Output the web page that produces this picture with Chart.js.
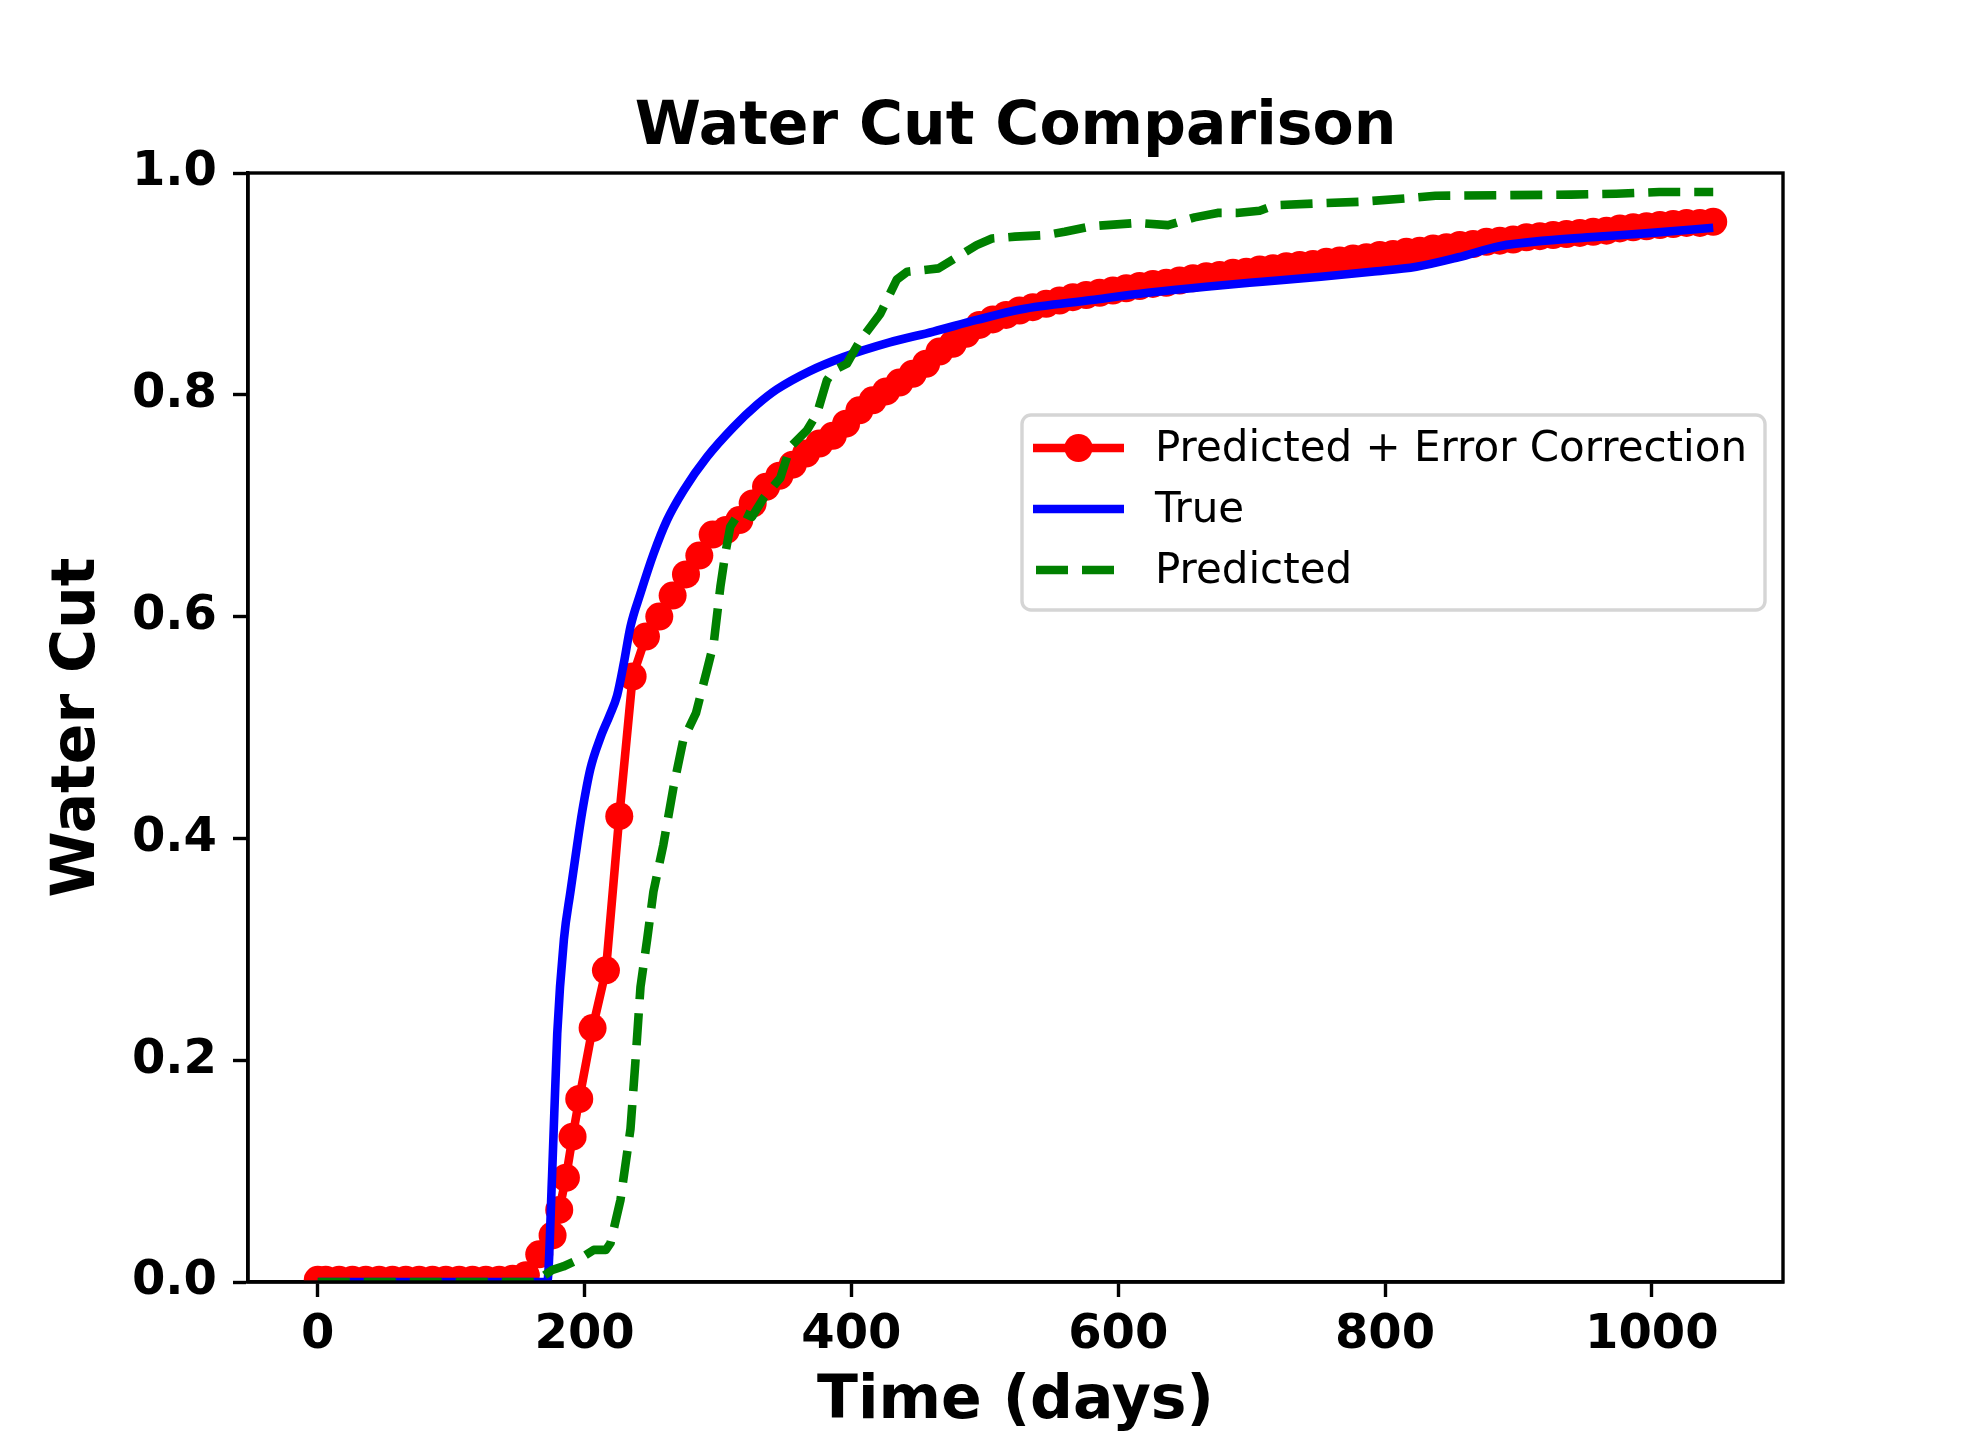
<!DOCTYPE html>
<html>
<head>
<meta charset="utf-8">
<script src="https://cdn.jsdelivr.net/npm/chart.js@4.4.1/dist/chart.umd.min.js"></script>
<style>
  html, body { margin: 0; padding: 0; background: #fff; }
  #wrap { width: 1980px; height: 1440px; }
</style>
</head>
<body>
<div id="wrap"><canvas id="myChart" width="1980" height="1440"></canvas></div>
<script>
// data
const corrDays = [0, 6, 16, 26, 36, 46, 56, 66, 76, 86, 96, 106, 116, 126, 136, 146, 156, 166, 176, 181, 186, 191, 196,
  206, 216, 226, 236, 246, 256, 266, 276, 286, 296, 306, 316, 326, 336, 346, 356, 366, 376, 386, 396,
  406, 416, 426, 436, 446, 456, 466, 476, 486, 496, 506, 516, 526, 536, 546, 556, 566, 576, 586, 596,
  606, 616, 626, 636, 646, 656, 666, 676, 686, 696, 706, 716, 726, 736, 746, 756, 766, 776, 786, 796,
  806, 816, 826, 836, 846, 856, 866, 876, 886, 896, 906, 916, 926, 936, 946, 956, 966, 976, 986, 996,
  1006, 1016, 1026, 1036, 1046];
const corrCut = [0.002, 0.002, 0.002, 0.002, 0.002, 0.002, 0.002, 0.002, 0.002, 0.002, 0.002, 0.002, 0.002, 0.002, 0.002, 0.003, 0.006, 0.025, 0.042, 0.065, 0.094, 0.131, 0.165,
  0.229, 0.281, 0.420, 0.546, 0.582, 0.600, 0.619, 0.638, 0.655, 0.674, 0.678, 0.687, 0.702, 0.717, 0.727, 0.737, 0.747, 0.756, 0.763, 0.774,
  0.786, 0.795, 0.803, 0.811, 0.819, 0.828, 0.839, 0.846, 0.855, 0.863, 0.868, 0.872, 0.876, 0.879, 0.882, 0.885, 0.888, 0.890, 0.892, 0.894,
  0.896, 0.898, 0.900, 0.901, 0.903, 0.905, 0.907, 0.908, 0.910, 0.911, 0.913, 0.914, 0.916, 0.917, 0.918, 0.920, 0.921, 0.923, 0.924, 0.926,
  0.927, 0.929, 0.930, 0.932, 0.933, 0.935, 0.936, 0.938, 0.939, 0.940, 0.942, 0.943, 0.944, 0.945, 0.946, 0.947, 0.948, 0.950, 0.951, 0.952,
  0.953, 0.954, 0.955, 0.955, 0.956];

const trueDays = [0, 100, 172, 175.6, 179.5, 184.5, 189.4, 194.4, 198.2, 204.4, 211.9, 218.8, 224.4, 229.4, 234.4, 241.9, 251.8, 261.8, 274.3,
  291.8, 311.7, 329.2, 344.2, 368, 394, 428, 461.5, 493.9, 526.6, 580, 622, 665.9, 708, 751.9, 790, 823.5, 855, 885.8, 920, 960.7, 1000, 1046];
const trueCut = [0, 0, 0, 0.095, 0.224, 0.309, 0.352, 0.394, 0.424, 0.463, 0.491, 0.511, 0.529, 0.558, 0.591, 0.621, 0.657, 0.687, 0.714,
  0.744, 0.771, 0.791, 0.805, 0.821, 0.834, 0.847, 0.857, 0.8675, 0.877, 0.8855, 0.892, 0.8975, 0.902, 0.9065, 0.911, 0.9155, 0.924, 0.934, 0.939, 0.9426, 0.946, 0.9507];

const predDays = [0, 166, 170, 176, 184, 195, 206.9, 216, 219.4, 226.9, 234.4, 238, 241.9, 246.9, 251.6, 259, 266.6, 274, 283.5, 291.8, 296.8, 301.8, 305.5,
  309.2, 316.7, 325.5, 334.2, 346.7, 354.2, 366.7, 374.2, 381.6, 386.6, 396.6, 406.6, 421.6, 434.1, 441.8, 458, 465.3, 493.9, 505.4, 522.6,
  545.5, 559.9, 580, 614.3, 637.3, 657.3, 674.5, 688.9, 706, 717.5, 751.9, 780.5, 814.9, 837.8, 885.8, 939.5, 973.2, 1005.6, 1046];
const predCut = [0, 0, 0.006, 0.011, 0.014, 0.020, 0.029, 0.029, 0.035, 0.074, 0.138, 0.197, 0.266, 0.309, 0.352, 0.394, 0.446, 0.489, 0.513, 0.552, 0.576, 0.627, 0.657,
  0.681, 0.695, 0.690, 0.707, 0.725, 0.753, 0.768, 0.783, 0.813, 0.822, 0.828, 0.849, 0.873, 0.904, 0.911, 0.913, 0.914, 0.935, 0.941, 0.9426,
  0.944, 0.947, 0.952, 0.955, 0.953, 0.960, 0.964, 0.964, 0.966, 0.971, 0.9727, 0.974, 0.977, 0.9795, 0.980, 0.9805, 0.9813, 0.9828, 0.9828];

const xTicks = [0, 200, 400, 600, 800, 1000];
const yTicks = [0, 0.2, 0.4, 0.6, 0.8, 1.0];

const toPoints = (xs, ys) => xs.map((x, i) => ({ x: x, y: ys[i] }));

const LW = 8.6; // 2pt at this size

// top/right spines plus the legend box
const framePlugin = {
  id: 'frame',
  afterDraw(chart) {
    const { ctx, chartArea } = chart;
    ctx.save();
    ctx.strokeStyle = '#000';
    ctx.lineWidth = 3.4;
    ctx.strokeRect(chartArea.left, chartArea.top, chartArea.right - chartArea.left, chartArea.bottom - chartArea.top);

    // legend
    const bx = 1022, by = 415, bw = 743, bh = 195;
    ctx.beginPath();
    ctx.roundRect(bx, by, bw, bh, 9);
    ctx.fillStyle = 'rgba(255,255,255,0.8)';
    ctx.fill();
    ctx.strokeStyle = '#d5d5d5';
    ctx.lineWidth = 3.4;
    ctx.stroke();

    const rows = [448, 509, 570];
    chart.data.datasets.forEach((ds, i) => {
      const y = rows[i];
      ctx.strokeStyle = ds.borderColor;
      ctx.lineWidth = LW;
      ctx.setLineDash(ds.borderDash || []);
      ctx.lineCap = 'butt';
      ctx.beginPath();
      ctx.moveTo(ds.borderDash ? 1036 : 1033, y);
      ctx.lineTo(1124, y);
      ctx.stroke();
      ctx.setLineDash([]);
      if (ds.pointRadius > 0) {
        ctx.fillStyle = ds.pointBackgroundColor;
        ctx.beginPath();
        ctx.arc(1078.5, y, ds.pointRadius, 0, Math.PI * 2);
        ctx.fill();
      }
      ctx.fillStyle = '#000';
      ctx.font = '42px "DejaVu Sans"';
      ctx.textBaseline = 'middle';
      ctx.textAlign = 'left';
      ctx.fillText(ds.label, 1155, y + 2);
    });
    ctx.restore();
  }
};

const tickFont = { family: 'DejaVu Sans', size: 48, weight: 'bold' };
const titleFont = { family: 'DejaVu Sans', size: 60, weight: 'bold' };

new Chart(document.getElementById('myChart'), {
  type: 'scatter',
  data: {
    datasets: [
      {
        label: 'Predicted + Error Correction',
        data: toPoints(corrDays, corrCut),
        showLine: true,
        borderColor: '#ff0000',
        borderWidth: LW,
        pointRadius: 14,
        pointBorderWidth: 0,
        pointBackgroundColor: '#ff0000',
        borderJoinStyle: 'round',
        order: 3,
        clip: 0,
      },
      {
        label: 'True',
        data: toPoints(trueDays, trueCut),
        showLine: true,
        borderColor: '#0000ff',
        borderWidth: LW,
        pointRadius: 0,
        borderJoinStyle: 'round',
        cubicInterpolationMode: 'monotone',
        order: 2,
        clip: 0,
      },
      {
        label: 'Predicted',
        data: toPoints(predDays, predCut),
        showLine: true,
        borderColor: '#008000',
        borderWidth: LW,
        borderDash: [32, 14],
        pointRadius: 0,
        borderJoinStyle: 'round',
        order: 1,
        clip: 0,
      },
    ],
  },
  options: {
    responsive: false,
    devicePixelRatio: 1,
    animation: false,
    layout: { padding: { left: 0, top: 0, right: 197, bottom: 0 } },
    plugins: {
      legend: { display: false },
      tooltip: { enabled: false },
      title: {
        display: true,
        fullSize: false,
        text: 'Water Cut Comparison',
        color: '#000',
        font: titleFont,
        padding: { top: 92, bottom: 9 },
      },
    },
    scales: {
      x: {
        type: 'linear',
        min: -52.3,
        max: 1098.3,
        afterBuildTicks: (scale) => { scale.ticks = xTicks.map((v) => ({ value: v })); },
        afterFit: (scale) => { scale.height = 158; },
        ticks: { color: '#000', font: tickFont, padding: 10, maxRotation: 0, callback: (v) => String(v) },
        grid: { drawOnChartArea: false, drawTicks: true, tickLength: 15, tickWidth: 3.4, tickColor: '#000' },
        border: { display: true, color: '#000', width: 3.4 },
        title: { display: true, text: 'Time (days)', color: '#000', font: titleFont, padding: { top: 2, bottom: 2 } },
      },
      y: {
        type: 'linear',
        min: 0,
        max: 1,
        afterBuildTicks: (scale) => { scale.ticks = yTicks.map((v) => ({ value: v })); },
        afterFit: (scale) => { scale.width = 248; },
        ticks: { color: '#000', font: tickFont, padding: 16, callback: (v) => v.toFixed(1) },
        grid: { drawOnChartArea: false, drawTicks: true, tickLength: 15, tickWidth: 3.4, tickColor: '#000' },
        border: { display: true, color: '#000', width: 3.4 },
        title: { display: true, text: 'Water Cut', color: '#000', font: titleFont, padding: { top: 42, bottom: 0 } },
      },
    },
  },
  plugins: [framePlugin],
});
</script>
</body>
</html>
